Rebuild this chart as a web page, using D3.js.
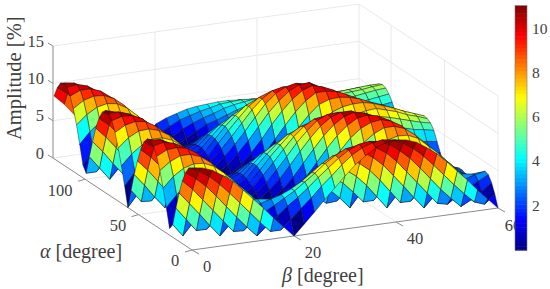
<!DOCTYPE html>
<html>
<head>
<meta charset="utf-8">
<script src="https://d3js.org/d3.v7.min.js"></script>
<style>
body{margin:0;background:#fff}
text{font-family:"Liberation Serif",serif;fill:#404040}
</style>
</head>
<body>
<svg id="chart" width="550" height="289"></svg>
<script>
// values
const betaValues = [0,2,4,6,8,10,12,14,16,18,20,22,24,26,28,30,32,34,36,38,40,42,44,46,48,50,52,54,56,58,60];
const alphaValues = [0,3,6,9,12,15,18,21,24,27,30,33,36,39,42,45,48,51,54,57,60,63,66,69,72,75,78,81,84,87,90,93,96,99,102,105,108,111,114,117,120,123,126,129];
// one row per alpha, one column per beta
const amplitude = [
[11.0,10.8,10.3,9.4,8.4,7.1,5.7,4.3,2.8,1.4,0,1.4,2.8,4.3,5.7,7.1,8.4,9.4,10.3,10.8,11.0,10.8,10.3,9.4,8.4,7.1,5.7,4.3,2.8,1.4,0],
[10.7,10.1,9.2,8.0,6.6,5.1,3.6,2.1,0.7,0.7,1.9,3.2,4.4,5.8,7.0,8.3,9.4,10.2,10.7,10.9,10.7,10.1,9.2,8.0,6.6,5.1,3.6,2.2,0.9,0.4,1.6],
[9.8,8.8,7.6,6.1,4.5,2.9,1.4,0,1.2,2.3,3.4,4.4,5.5,6.7,7.8,8.9,9.8,10.4,10.6,10.4,9.8,8.8,7.6,6.1,4.5,2.9,1.5,0.2,0.9,1.8,2.8],
[8.4,7.1,5.5,3.9,2.3,0.7,0.6,1.8,2.7,3.4,4.2,5.0,6.0,7.0,8.1,9.0,9.7,9.9,9.8,9.3,8.4,7.1,5.5,3.9,2.3,0.7,0.4,1.4,2.2,2.9,3.6],
[6.5,4.9,3.3,1.6,0,1.4,2.4,3.1,3.6,4.0,4.4,5.0,5.8,6.8,7.8,8.6,8.9,9.0,8.6,7.7,6.5,4.9,3.3,1.6,0,1.4,2.2,2.8,3.1,3.5,3.8],
[4.2,2.5,0.8,0.8,2.1,3.2,3.8,4.0,3.9,3.7,3.7,4.2,5.1,6.2,7.0,7.7,7.8,7.6,6.8,5.7,4.2,2.5,0.8,0.8,2.1,3.2,3.5,3.6,3.5,3.3,3.4],
[1.7,0,1.6,3.1,4.1,4.6,4.7,4.3,3.5,2.4,1.9,2.5,3.9,5.0,5.9,6.4,6.4,5.8,4.8,3.4,1.7,0,1.6,3.1,4.1,4.6,4.4,4.0,3.2,2.2,1.8],
[0.9,2.5,4.0,5.2,5.8,6.0,5.6,4.9,3.8,2.5,1.9,2.4,3.6,4.5,5.0,5.1,4.7,3.8,2.4,0.9,0.9,2.5,4.0,5.2,5.8,6.0,5.4,4.7,3.6,2.4,1.9],
[3.4,4.9,6.2,7.0,7.3,7.0,6.3,5.2,3.9,2.5,1.8,2.2,3.2,3.7,3.9,3.6,2.8,1.5,0,1.7,3.4,4.9,6.2,7.0,7.3,7.0,6.1,5.1,3.8,2.5,1.9],
[5.7,7.1,8.0,8.4,8.3,7.7,6.6,5.3,3.8,2.3,1.6,1.9,2.5,2.8,2.5,1.8,0.7,0.8,2.4,4.2,5.7,7.1,8.0,8.4,8.3,7.7,6.5,5.3,3.9,2.5,1.8],
[7.8,8.8,9.4,9.4,8.9,7.9,6.5,5.0,3.5,2.0,1.3,1.5,1.8,1.6,1.0,0,1.4,3.1,4.8,6.4,7.8,8.8,9.4,9.4,8.9,7.9,6.6,5.2,3.8,2.4,1.7],
[9.4,10.1,10.2,9.9,9.0,7.7,6.1,4.5,3.0,1.6,1.0,1.0,0.9,0.4,0.5,1.8,3.4,5.2,6.8,8.3,9.4,10.0,10.2,9.8,9.0,7.7,6.4,5.1,3.8,2.5,1.9],
[10.5,10.8,10.5,9.8,8.6,7.0,5.3,3.7,2.3,1.1,0.6,0.4,0,0.8,2.0,3.6,5.3,7.0,8.5,9.7,10.5,10.7,10.4,9.7,8.5,7.1,5.9,4.7,3.5,2.4,1.9],
[11.0,10.9,10.2,9.1,7.7,6.0,4.3,2.8,1.5,0.6,0.1,0.2,0.9,2.0,3.4,5.1,6.8,8.4,9.7,10.6,11.0,10.7,10.1,9.0,7.7,6.1,5.0,4.0,3.0,2.1,1.7],
[10.9,10.4,9.4,8.0,6.4,4.6,3.0,1.6,0.6,0,0.3,0.8,1.8,3.1,4.7,6.4,8.0,9.4,10.4,10.9,10.9,10.2,9.2,7.8,6.3,4.8,3.9,3.1,2.3,1.7,1.3],
[10.2,9.3,8.0,6.4,4.7,3.0,1.5,0.4,0.3,0.6,0.7,1.3,2.5,4.0,5.6,7.3,8.7,9.9,10.5,10.6,10.2,9.1,7.8,6.3,4.7,3.1,2.5,1.9,1.4,0.9,0.7],
[8.9,7.7,6.2,4.5,2.8,1.2,0,0.8,1.2,1.1,1.1,1.8,3.2,4.7,6.3,7.8,9.0,9.8,10.0,9.7,8.9,7.5,6.0,4.4,2.8,1.3,0.9,0.6,0.3,0.1,0.1],
[7.1,5.7,4.0,2.3,0.7,0.6,1.5,2.0,2.0,1.6,1.4,2.1,3.6,5.2,6.6,7.9,8.7,9.1,9.0,8.3,7.1,5.5,3.9,2.2,0.7,0.6,0.8,1.0,1.0,1.1,1.1],
[5.0,3.4,1.6,0,1.4,2.4,3.0,3.1,2.8,2.0,1.7,2.4,3.9,5.3,6.5,7.5,8.0,8.0,7.4,6.4,5.0,3.3,1.6,0,1.4,2.6,2.6,2.6,2.5,2.4,2.3],
[2.6,0.9,0.8,2.3,3.4,4.1,4.3,4.0,3.3,2.3,1.8,2.5,3.9,5.2,6.1,6.7,6.8,6.4,5.5,4.2,2.6,0.8,0.8,2.2,3.4,4.4,4.3,4.1,3.9,3.7,3.5],
[0,1.7,3.2,4.5,5.3,5.6,5.3,4.7,3.7,2.5,1.9,2.5,3.7,4.7,5.3,5.6,5.3,4.5,3.2,1.7,0,1.6,3.1,4.3,5.2,5.9,5.8,5.6,5.2,5.0,4.7],
[2.6,4.2,5.5,6.4,6.8,6.7,6.1,5.2,3.9,2.5,1.8,2.3,3.3,4.0,4.3,4.1,3.4,2.3,0.8,0.9,2.6,4.0,5.2,6.1,6.8,7.2,6.9,6.5,6.1,5.7,5.4],
[5.0,6.4,7.4,8.0,8.0,7.5,6.5,5.3,3.9,2.4,1.7,2.0,2.8,3.1,3.0,2.4,1.4,0,1.6,3.4,5.0,6.2,7.1,7.6,7.9,8.0,7.6,7.2,6.6,6.2,5.7],
[7.1,8.3,9.0,9.1,8.7,7.9,6.6,5.2,3.6,2.1,1.4,1.6,2.0,2.0,1.5,0.6,0.7,2.3,4.0,5.7,7.1,8.0,8.5,8.7,8.7,8.4,7.9,7.4,6.8,6.3,5.8],
[8.9,9.7,10.0,9.8,9.0,7.8,6.3,4.7,3.2,1.8,1.1,1.1,1.2,0.8,0,1.2,2.8,4.5,6.2,7.7,8.9,9.4,9.5,9.3,8.9,8.3,7.8,7.2,6.6,6.0,5.5],
[10.2,10.6,10.5,9.9,8.7,7.3,5.6,4.0,2.5,1.3,0.7,0.6,0.3,0.4,1.5,3.0,4.7,6.4,8.0,9.3,10.2,10.2,10.0,9.4,8.7,7.8,7.2,6.7,6.0,5.5,4.9],
[10.9,10.9,10.4,9.4,8.0,6.4,4.7,3.1,1.8,0.8,0.3,0,0.6,1.6,3.0,4.6,6.4,8.0,9.4,10.4,10.9,10.5,9.9,8.9,7.9,6.8,6.2,5.7,5.1,4.6,4.1],
[11.0,10.6,9.7,8.4,6.8,5.1,3.4,2.0,0.9,0.2,0.1,0.6,1.5,2.8,4.3,6.0,7.7,9.1,10.2,10.9,11.0,10.2,9.2,8.0,6.8,5.4,4.8,4.4,3.9,3.4,3.1],
[10.5,9.7,8.5,7.0,5.3,3.6,2.0,0.8,0,0.4,0.6,1.1,2.3,3.7,5.3,7.0,8.6,9.8,10.5,10.8,10.5,9.4,8.1,6.6,5.0,3.6,3.2,2.8,2.4,2.1,1.8],
[9.4,8.3,6.8,5.2,3.4,1.8,0.5,0.4,0.9,1.0,1.0,1.6,3.0,4.5,6.1,7.7,9.0,9.9,10.2,10.1,9.4,8.0,6.3,4.6,3.1,1.7,1.5,1.2,0.9,0.7,0.5],
[7.8,6.4,4.8,3.1,1.4,0,1.0,1.6,1.8,1.5,1.3,2.0,3.5,5.0,6.5,7.9,8.9,9.4,9.4,8.8,7.8,5.9,4.1,2.5,1.2,0,0.2,0.4,0.6,0.8,1.0],
[5.7,4.2,2.4,0.8,0.7,1.8,2.5,2.8,2.5,1.9,1.6,2.3,3.8,5.3,6.6,7.7,8.3,8.4,8.0,6.9,5.3,3.5,2.0,0.6,0.6,1.5,1.7,1.9,2.1,2.2,2.4],
[3.4,1.7,0,1.5,2.8,3.6,3.9,3.7,3.2,2.2,1.8,2.5,3.9,5.2,6.3,7.0,7.3,7.0,5.8,4.4,2.9,1.3,0,1.1,2.0,2.8,3.0,3.1,3.3,3.5,3.7],
[0.9,0.9,2.4,3.8,4.7,5.1,5.0,4.5,3.6,2.4,1.9,2.5,3.8,4.9,5.6,6.0,5.7,4.8,3.5,2.1,0.7,0.6,1.6,2.5,3.2,3.8,3.9,4.1,4.4,4.6,4.8],
[1.7,3.4,4.8,5.8,6.4,6.4,5.9,5.0,3.9,2.5,1.9,2.4,3.5,4.3,4.7,4.4,3.7,2.6,1.3,0,1.2,2.1,2.8,3.4,3.9,4.6,4.8,5.0,5.2,5.4,5.6],
[4.2,5.7,6.8,7.5,7.7,7.3,6.4,5.3,3.9,2.4,1.8,2.1,3.0,3.4,3.3,2.7,1.7,0.6,0.6,1.6,2.5,3.1,3.6,4.1,4.8,5.3,5.4,5.6,5.8,6.0,6.1],
[6.5,7.7,8.5,8.8,8.6,7.8,6.6,5.2,3.7,2.2,1.5,1.8,2.3,2.3,1.8,1.0,0,1.1,2.0,2.8,3.3,3.7,4.3,4.9,5.3,5.6,5.8,5.9,6.0,6.2,6.3],
[8.4,9.3,9.7,9.6,9.0,7.9,6.4,4.9,3.3,1.9,1.3,1.5,1.6,1.2,0.4,0.5,1.4,2.3,3.0,3.4,3.9,4.5,4.9,5.3,5.6,5.7,5.8,5.9,6.0,6.1,6.1],
[9.8,10.4,10.4,9.9,8.9,7.5,5.9,4.3,2.8,1.5,1.1,1.0,0.6,0,0.8,1.7,2.5,3.1,3.4,4.0,4.5,5.0,5.3,5.5,5.5,5.4,5.5,5.5,5.6,5.6,5.6],
[10.7,10.9,10.5,9.6,8.3,6.7,5.0,3.4,2.0,1.0,0.7,0.3,0.3,1.1,1.9,2.6,3.1,3.6,4.1,4.6,5.0,5.2,5.3,5.3,5.2,4.9,4.9,4.9,4.8,4.8,4.8],
[11.0,10.8,10.0,8.8,7.3,5.6,3.9,2.4,1.2,0.4,0,0.6,1.3,2.1,2.8,3.2,3.7,4.2,4.6,4.9,5.1,5.2,5.1,4.9,4.5,4.0,4.0,3.9,3.9,3.8,3.7],
[10.7,10.1,9.0,7.5,5.8,4.1,2.5,1.2,0.3,0.2,0.8,1.5,2.3,2.9,3.4,3.8,4.3,4.6,4.8,5.0,5.0,4.8,4.6,4.1,3.6,3.0,2.9,2.8,2.7,2.5,2.4],
[9.8,8.8,7.4,5.8,4.1,2.4,1.0,0,0.6,0.8,1.8,2.5,3.2,3.6,4.0,4.3,4.6,4.7,4.8,4.7,4.5,4.2,3.8,3.2,2.5,1.8,1.6,1.5,1.3,1.2,1.0],
[8.4,7.1,5.5,3.8,2.1,0.6,0.5,1.2,1.5,1.3,2.8,3.4,3.8,4.2,4.4,4.5,4.6,4.6,4.5,4.2,3.9,3.4,2.8,2.1,1.3,0.4,0.2,0,0.1,0.3,0.5]
];
const zTicks = [0,5,10,15];
const alphaTicks = [0,50,100];
const betaTicks = [0,20,40,60];
const colorbarTicks = [2,4,6,8,10];
const colorRange = [0.05,11.1];
const jetColors = ["#00007f","#0000ff","#007fff","#00ffff","#7fff7f","#ffff00","#ff7f00","#ff0000","#7f0000"];

const svg = d3.select("#chart");

// projection of the 3d box, the floor corner alpha=0 beta=0 sits at (192,250)
const alphaX = d3.scaleLinear().domain([0,130]).range([192,53]);
const alphaY = d3.scaleLinear().domain([0,130]).range([0,-92]);
const betaX = d3.scaleLinear().domain([0,60]).range([0,306]);
const betaY = d3.scaleLinear().domain([0,60]).range([250,208]);
const zY = d3.scaleLinear().domain([0,15]).range([0,-112]);
const project = (a,b,z) => [alphaX(a)+betaX(b), betaY(b)+alphaY(a)+zY(z)];

// jet colormap cut into 64 flat levels like the matlab one
const jet = d3.scaleLinear()
  .domain(jetColors.map((c,i) => colorRange[0]+i*(colorRange[1]-colorRange[0])/8))
  .range(jetColors)
  .clamp(true);
const levels = d3.range(64).map(k => jet(colorRange[0]+(k+0.5)/64*(colorRange[1]-colorRange[0])));
const level = d3.scaleQuantize().domain(colorRange).range(levels);

const seg = (g,p,q,color) => g.append("line")
  .attr("x1",p[0]).attr("y1",p[1]).attr("x2",q[0]).attr("y2",q[1])
  .attr("stroke",color);
const label = (x,y,txt,size,anchor) => svg.append("text")
  .attr("x",x).attr("y",y)
  .attr("text-anchor",anchor)
  .attr("dominant-baseline","middle")
  .attr("font-size",size)
  .text(txt);

/////////////// grid on the back walls and floor ///////////////
const grid = svg.append("g");
const gridColor = "#e9e9e9";
zTicks.forEach(z => {
  seg(grid,project(130,0,z),project(130,60,z),gridColor);
  seg(grid,project(130,60,z),project(0,60,z),gridColor);
});
betaTicks.slice(1).forEach(b => {
  seg(grid,project(130,b,0),project(130,b,15),gridColor);
  seg(grid,project(130,b,0),project(0,b,0),gridColor);
});
alphaTicks.slice(1).forEach(a => {
  seg(grid,project(a,60,0),project(a,60,15),gridColor);
  seg(grid,project(a,0,0),project(a,60,0),gridColor);
});
seg(grid,project(0,60,0),project(0,60,15),gridColor);

/////////////// axes ///////////////
const axes = svg.append("g");
const axisColor = "#8a8a8a";
seg(axes,project(130,0,0),project(130,0,15),axisColor);
seg(axes,project(130,0,0),project(0,0,0),axisColor);
seg(axes,project(0,0,0),project(0,60,0),axisColor);

zTicks.forEach(z => {
  const p = project(130,0,z);
  seg(axes,p,[p[0]-5,p[1]-3],axisColor);
  label(44,p[1]-3,z,16.5,"end");
});
const alphaLabelPos = [[175,262],[118,227],[60,192]];
alphaTicks.forEach((a,i) => {
  const p = project(a,0,0);
  seg(axes,p,[p[0]-7,p[1]+2],axisColor);
  label(alphaLabelPos[i][0],alphaLabelPos[i][1],a,16.5,"middle");
});
const betaLabelPos = [[207,268],[313,254],[415,240],[513,227]];
betaTicks.forEach((b,i) => {
  const p = project(0,b,0);
  seg(axes,p,[p[0]+7,p[1]+4],axisColor);
  label(betaLabelPos[i][0],betaLabelPos[i][1],b,16.5,"middle");
});

/////////////// surface, far cells first so near ones paint over ///////////////
const cells = [];
for (let i = alphaValues.length-2; i >= 0; i--) {
  for (let j = betaValues.length-2; j >= 0; j--) {
    cells.push({i:i,j:j});
  }
}
const node = (i,j) => project(alphaValues[i],betaValues[j],amplitude[i][j]);
const path = d3.line();
svg.append("g").selectAll("path")
  .data(cells)
  .join("path")
  .attr("d", d => path([node(d.i,d.j),node(d.i+1,d.j),node(d.i+1,d.j+1),node(d.i,d.j+1)])+"Z")
  .attr("fill", d => level(amplitude[d.i][d.j]))
  .attr("stroke","#151515")
  .attr("stroke-width",0.45)
  .attr("stroke-linejoin","round");

/////////////// colorbar ///////////////
const barY = d3.scaleLinear().domain([2,10]).range([207,30]);
const step = (colorRange[1]-colorRange[0])/64;
svg.append("g").selectAll("rect")
  .data(levels)
  .join("rect")
  .attr("x",515)
  .attr("width",12)
  .attr("y",(c,k) => barY(colorRange[0]+(k+1)*step))
  .attr("height",(c,k) => barY(colorRange[0]+k*step)-barY(colorRange[0]+(k+1)*step)+0.5)
  .attr("fill",c => c);
svg.append("rect")
  .attr("x",515).attr("width",12)
  .attr("y",barY(colorRange[1]))
  .attr("height",barY(colorRange[0])-barY(colorRange[1]))
  .attr("fill","none")
  .attr("stroke","#777")
  .attr("stroke-width",0.6);
colorbarTicks.forEach(v => label(532,barY(v),v,15.5,"start"));

/////////////// titles ///////////////
svg.append("text")
  .attr("transform","translate(21,140) rotate(-90)")
  .attr("font-size",20.5)
  .text("Amplitude [%]");
const alphaTitle = svg.append("text").attr("x",40).attr("y",258).attr("font-size",20);
alphaTitle.append("tspan").attr("font-style","italic").text("α");
alphaTitle.append("tspan").text(" [degree]");
const betaTitle = svg.append("text").attr("x",282).attr("y",282).attr("font-size",20);
betaTitle.append("tspan").attr("font-style","italic").text("β");
betaTitle.append("tspan").text(" [degree]");
</script>
</body>
</html>
